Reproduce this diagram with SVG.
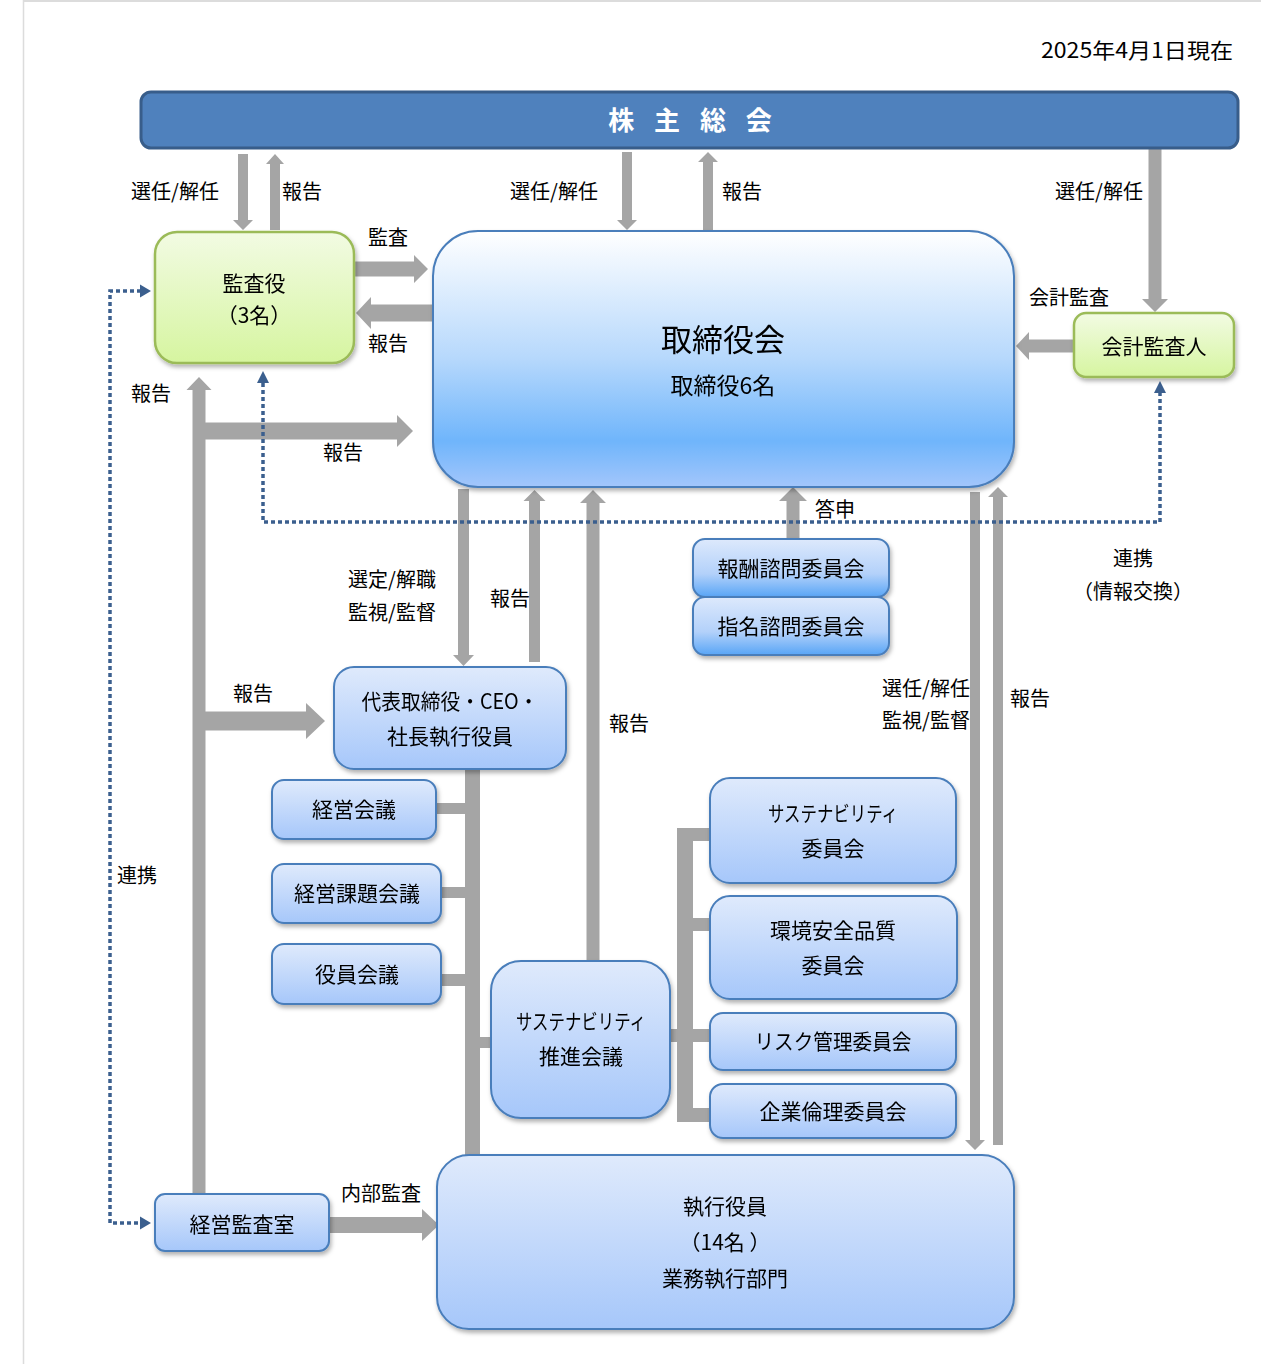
<svg xmlns="http://www.w3.org/2000/svg" width="1284" height="1364" viewBox="0 0 1284 1364">
<style>
text{font-family:"Noto Sans CJK JP","Noto Sans",sans-serif;fill:#000;text-anchor:middle}
.lbl{font-size:20px}
.nt{font-size:21px}
.blue{fill:url(#gBlue);stroke:#4A7EBB;stroke-width:2}
.blue2{fill:url(#gBlue2);stroke:#4A7EBB;stroke-width:2}
.green{fill:url(#gGreen);stroke:#9BBB59;stroke-width:2.5}
.ga{fill:#A5A5A5}
.dot{fill:none;stroke:#3B5F8E;stroke-width:3.5;stroke-dasharray:4 3}
.dh{fill:#3B5F8E}
.sh{filter:url(#shadow)}
</style>
<defs>
<linearGradient id="gBlue" x1="0" y1="0" x2="0" y2="1"><stop offset="0" stop-color="#DFEAFC"/><stop offset="1" stop-color="#A6C7FA"/></linearGradient>
<linearGradient id="gBlue2" x1="0" y1="0" x2="0" y2="1"><stop offset="0" stop-color="#DDE9FC"/><stop offset="0.6" stop-color="#B3D1FA"/><stop offset="1" stop-color="#58A5F6"/></linearGradient>
<linearGradient id="gBoard" x1="0" y1="0" x2="0" y2="1"><stop offset="0" stop-color="#FFFFFF"/><stop offset="0.5" stop-color="#B6D8FC"/><stop offset="0.82" stop-color="#6FB5FB"/><stop offset="1" stop-color="#A3C6FB"/></linearGradient>
<linearGradient id="gGreen" x1="0" y1="0" x2="0" y2="1"><stop offset="0" stop-color="#F2FBE3"/><stop offset="1" stop-color="#D6F5A0"/></linearGradient>
<filter id="shadow" x="-10%" y="-10%" width="120%" height="130%"><feDropShadow dx="1.5" dy="3" stdDeviation="2" flood-color="#000" flood-opacity="0.3"/></filter>
</defs>

<g id="frame">
<line x1="23.5" y1="0" x2="23.5" y2="1364" stroke="#DCDCDC" stroke-width="1.5"/>
<line x1="23" y1="1" x2="1261" y2="1" stroke="#DCDCDC" stroke-width="2"/>
</g>

<text x="1233" y="58" style="text-anchor:end;font-size:21px" textLength="192" lengthAdjust="spacingAndGlyphs">2025年4月1日現在</text>

<g id="connectors">
<polygon class="ga" points="238,154 248,154 248,220 253,220 243,230 233,220 238,220"/>
<polygon class="ga" points="270,230 280,230 280,164 284,164 275,154 266,164 270,164"/>
<polygon class="ga" points="622,152 632,152 632,220 637,220 627,230 617,220 622,220"/>
<polygon class="ga" points="703,230 713,230 713,162 718,162 708,152 698,162 703,162"/>
<polygon class="ga" points="1148.5,149 1161.5,149 1161.5,299 1168,299 1155,312 1142,299 1148.5,299"/>
<polygon class="ga" points="355,261.5 414,261.5 414,255 428,269 414,283 414,276.5 355,276.5"/>
<polygon class="ga" points="433,304.5 371,304.5 371,297 356,313 371,329 371,321.5 433,321.5"/>
<polygon class="ga" points="1074,339.5 1029,339.5 1029,332 1016,346 1029,360 1029,352.5 1074,352.5"/>
<polygon class="ga" points="192.5,1194 205.5,1194 205.5,390 211.5,390 199,377 186.5,390 192.5,390"/>
<polygon class="ga" points="205,422.5 397,422.5 397,415 413,431 397,447 397,439.5 205,439.5"/>
<polygon class="ga" points="205,711.5 306,711.5 306,703 325,721 306,739 306,730.5 205,730.5"/>
<polygon class="ga" points="458,489 469,489 469,655 474,655 463.5,666 453,655 458,655"/>
<polygon class="ga" points="529,662 540,662 540,501 545.5,501 534.5,490 523.5,501 529,501"/>
<polygon class="ga" points="586.5,960 599.5,960 599.5,503 606,503 593,490 580,503 586.5,503"/>
<polygon class="ga" points="786.5,539 799.5,539 799.5,501 807,501 793,487 779,501 786.5,501"/>
<polygon class="ga" points="970,492 980,492 980,1140 985,1140 975,1150 965,1140 970,1140"/>
<polygon class="ga" points="993,1145 1003,1145 1003,497 1008,497 998,487 988,497 993,497"/>
<polygon class="ga" points="330,1217 422,1217 422,1209 439,1225 422,1241 422,1233 330,1233"/>
<rect class="ga" x="465" y="769" width="15" height="387"/>
<rect class="ga" x="436" y="803" width="30" height="11"/>
<rect class="ga" x="441" y="887" width="25" height="11"/>
<rect class="ga" x="441" y="974" width="25" height="12"/>
<rect class="ga" x="479" y="1037" width="13" height="11"/>
<rect class="ga" x="677" y="828" width="16" height="294"/>
<rect class="ga" x="677" y="828" width="33" height="13"/>
<rect class="ga" x="692" y="918" width="18" height="13"/>
<rect class="ga" x="669" y="1029" width="41" height="13"/>
<rect class="ga" x="677" y="1108" width="33" height="14"/>
<path class="dot" d="M141,291 H110 V1223 H141"/>
<polygon class="dh" points="140,284.5 151,291 140,297.5"/>
<polygon class="dh" points="140,1216.5 151,1223 140,1229.5"/>
<path class="dot" d="M263,383 V522 H1160 V393"/>
<polygon class="dh" points="257,383 263,371 269,383"/>
<polygon class="dh" points="1154,393 1160,381 1166,393"/>
</g>

<g id="labels">
<text class="lbl" x="175" y="199">選任/解任</text>
<text class="lbl" x="302" y="199">報告</text>
<text class="lbl" x="554" y="199">選任/解任</text>
<text class="lbl" x="742" y="199">報告</text>
<text class="lbl" x="1099" y="199">選任/解任</text>
<text class="lbl" x="388" y="245">監査</text>
<text class="lbl" x="388" y="351">報告</text>
<text class="lbl" x="1069" y="305">会計監査</text>
<text class="lbl" x="151" y="401">報告</text>
<text class="lbl" x="343" y="460">報告</text>
<text class="lbl" x="835" y="517">答申</text>
<text class="lbl" x="1133" y="566">連携</text>
<text class="lbl" x="1133" y="599">（情報交換）</text>
<text class="lbl" x="392" y="587">選定/解職</text>
<text class="lbl" x="392" y="620">監視/監督</text>
<text class="lbl" x="510" y="606">報告</text>
<text class="lbl" x="253" y="701">報告</text>
<text class="lbl" x="926" y="696">選任/解任</text>
<text class="lbl" x="926" y="728">監視/監督</text>
<text class="lbl" x="1030" y="706">報告</text>
<text class="lbl" x="629" y="731">報告</text>
<text class="lbl" x="137" y="883">連携</text>
<text class="lbl" x="381" y="1201">内部監査</text>
</g>

<g id="shareholders">
<rect x="141" y="92" width="1097" height="56" rx="10" fill="#4F81BD" stroke="#385D8A" stroke-width="3"/>
<text x="690" y="130" style="font-size:26px;font-weight:bold;fill:#fff" word-spacing="14">株 主 総 会</text>
</g>

<g id="auditors" class="sh">
<rect class="green" x="155" y="232" width="199" height="131" rx="22"/>
<text class="nt" x="254" y="291">監査役</text>
<text class="nt" x="254" y="323">（3名）</text>
</g>

<g id="board" class="sh">
<rect x="433" y="231" width="581" height="256" rx="45" fill="url(#gBoard)" stroke="#4A7EBB" stroke-width="2"/>
<text x="723" y="351" style="font-size:31px">取締役会</text>
<text x="723" y="394" style="font-size:23px">取締役6名</text>
</g>

<g id="accounting-auditor" class="sh">
<rect class="green" x="1074" y="313" width="160" height="64" rx="12"/>
<text class="nt" x="1154" y="354">会計監査人</text>
</g>

<g id="compensation-committee" class="sh">
<rect class="blue2" x="693" y="539" width="196" height="58" rx="12"/>
<text class="nt" x="791" y="576">報酬諮問委員会</text>
</g>

<g id="nomination-committee" class="sh">
<rect class="blue2" x="693" y="597" width="196" height="58" rx="12"/>
<text class="nt" x="791" y="634">指名諮問委員会</text>
</g>

<g id="ceo" class="sh">
<rect class="blue" x="334" y="667" width="232" height="102" rx="20"/>
<text class="nt" x="450" y="709" textLength="177" lengthAdjust="spacingAndGlyphs">代表取締役・CEO・</text>
<text class="nt" x="450" y="744">社長執行役員</text>
</g>

<g id="management-meeting" class="sh">
<rect class="blue" x="272" y="780" width="164" height="59" rx="12"/>
<text class="nt" x="354" y="817">経営会議</text>
</g>

<g id="management-issues-meeting" class="sh">
<rect class="blue" x="272" y="864" width="169" height="59" rx="12"/>
<text class="nt" x="357" y="901">経営課題会議</text>
</g>

<g id="officers-meeting" class="sh">
<rect class="blue" x="272" y="944" width="169" height="60" rx="12"/>
<text class="nt" x="357" y="982">役員会議</text>
</g>

<g id="sustainability-promotion" class="sh">
<rect class="blue" x="491" y="961" width="179" height="157" rx="30"/>
<text class="nt" x="581" y="1029" textLength="130" lengthAdjust="spacingAndGlyphs">サステナビリティ</text>
<text class="nt" x="581" y="1064">推進会議</text>
</g>

<g id="sustainability-committee" class="sh">
<rect class="blue" x="710" y="778" width="246" height="105" rx="20"/>
<text class="nt" x="833" y="821" textLength="130" lengthAdjust="spacingAndGlyphs">サステナビリティ</text>
<text class="nt" x="833" y="856">委員会</text>
</g>

<g id="esq-committee" class="sh">
<rect class="blue" x="710" y="896" width="247" height="103" rx="20"/>
<text class="nt" x="833" y="938">環境安全品質</text>
<text class="nt" x="833" y="973">委員会</text>
</g>

<g id="risk-committee" class="sh">
<rect class="blue" x="710" y="1013" width="246" height="57" rx="13"/>
<text class="nt" x="833" y="1049" textLength="157" lengthAdjust="spacingAndGlyphs">リスク管理委員会</text>
</g>

<g id="ethics-committee" class="sh">
<rect class="blue" x="710" y="1084" width="246" height="54" rx="13"/>
<text class="nt" x="833" y="1119">企業倫理委員会</text>
</g>

<g id="executive-officers" class="sh">
<rect class="blue" x="437" y="1155" width="577" height="174" rx="32"/>
<text class="nt" x="725" y="1214">執行役員</text>
<text class="nt" x="725" y="1250">（14名 ）</text>
<text class="nt" x="725" y="1286">業務執行部門</text>
</g>

<g id="internal-audit-office" class="sh">
<rect class="blue" x="155" y="1194" width="174" height="57" rx="10"/>
<text class="nt" x="242" y="1232">経営監査室</text>
</g>
</svg>
